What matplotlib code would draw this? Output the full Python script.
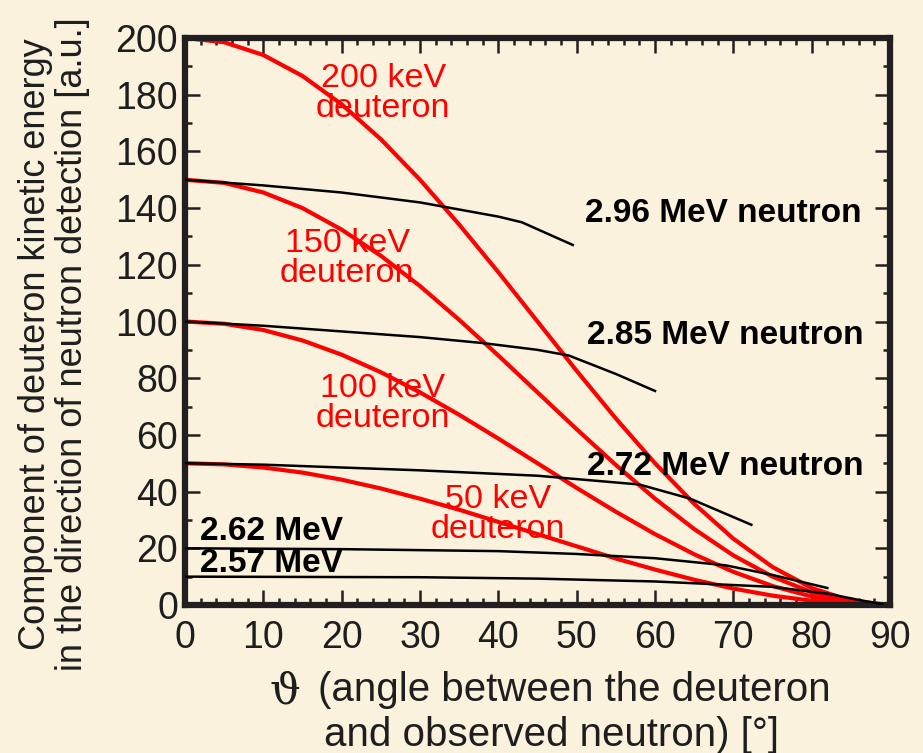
import numpy as np
import matplotlib
matplotlib.use("Agg")
import matplotlib.pyplot as plt
from matplotlib.ticker import MultipleLocator

# ---------------- data ----------------
theta = [0, 5, 10, 15, 20, 25, 30, 35, 40, 45, 50, 55, 60, 65, 70, 75, 80, 85, 90]
deut_200 = [200, 198.5, 194.0, 186.6, 176.6, 164.3, 150.0, 134.2, 117.4, 100.0,
            82.6, 65.8, 50.0, 35.7, 23.4, 13.4, 6.0, 1.5, 0]
deut_150 = [150, 148.9, 145.5, 140.0, 132.4, 123.2, 112.5, 100.6, 88.0, 75.0,
            62.0, 49.4, 37.5, 26.8, 17.5, 10.0, 4.5, 1.1, 0]
deut_100 = [100, 99.2, 97.0, 93.3, 88.3, 82.1, 75.0, 67.1, 58.7, 50.0,
            41.3, 32.9, 25.0, 17.9, 11.7, 6.7, 3.0, 0.8, 0]
deut_50 = [50, 49.6, 48.5, 46.7, 44.2, 41.1, 37.5, 33.6, 29.3, 25.0,
           20.7, 16.4, 12.5, 8.9, 5.8, 3.3, 1.5, 0.4, 0]

n296_x = [0, 10, 20, 30, 40, 43, 49.5]
n296_y = [150, 148, 145.5, 142, 137, 135, 127]
n285_x = [0, 10, 20, 30, 38, 45, 49, 55, 60]
n285_y = [100, 98.5, 96.5, 94.5, 92.4, 90, 88, 81.5, 75.5]
n272_x = [0, 10, 20, 30, 45, 58, 64.5, 72.3]
n272_y = [50, 49.5, 48.5, 47.5, 45.6, 42.5, 37.5, 28.3]
n262_x = [0, 20, 40, 50, 60, 69, 75, 82]
n262_y = [20, 19.7, 19, 18, 16.5, 14, 10.6, 6]
n257_x = [0, 30, 45, 60, 75, 82, 86, 89]
n257_y = [10, 9.8, 9.3, 8.3, 6.4, 4, 1.8, 0.3]

red_labels = ["200 keV\ndeuteron", "150 keV\ndeuteron", "100 keV\ndeuteron", "50 keV\ndeuteron"]
red_pos = [(25.3, 180.4), (20.7, 122.1), (25.2, 71.2), (40.0, 31.9)]
black_labels = ["2.96 MeV neutron", "2.85 MeV neutron", "2.72 MeV neutron", "2.62 MeV", "2.57 MeV"]
black_pos = [(51.1, 138), (51.3, 94.9), (51.3, 48.8), (1.9, 25.8), (1.9, 14.5)]

# ---------------- style ----------------
bg = "#FBF2DD"
frame = "#231F20"
red = "#FF0000"
txt = "#1E1E1E"
plt.rcParams["font.family"] = ["Liberation Sans", "DejaVu Sans"]

fig = plt.figure(figsize=(9.23, 7.53), dpi=100, facecolor=bg)
ax = fig.add_axes([185 / 923, 1 - 605 / 753, (890 - 185) / 923, (605 - 38) / 753])
ax.set_facecolor(bg)

for y in [deut_200, deut_150, deut_100, deut_50]:
    ax.plot(theta, y, color=red, lw=3.0, solid_capstyle="butt", zorder=2)

for xs, ys in [(n296_x, n296_y), (n285_x, n285_y), (n272_x, n272_y),
               (n262_x, n262_y), (n257_x, n257_y)]:
    ax.plot(xs, ys, color="black", lw=1.8, zorder=3)

for s, (x, y) in zip(red_labels, red_pos):
    ax.text(x, y, s, color=red, fontsize=24.5, ha="center", va="center",
            linespacing=0.95, zorder=4)
for s, (x, y) in zip(black_labels, black_pos):
    ax.text(x, y, s, color="black", fontsize=24, fontweight="bold",
            ha="left", va="center", zorder=4)

ax.set_xlim(0, 90)
ax.set_ylim(0, 200)
ax.xaxis.set_major_locator(MultipleLocator(10))
ax.xaxis.set_minor_locator(MultipleLocator(2))
ax.yaxis.set_major_locator(MultipleLocator(20))
ax.yaxis.set_minor_locator(MultipleLocator(10))
ax.tick_params(which="both", direction="in", top=True, right=True,
               color=frame, width=1.8, labelsize=27, labelcolor=txt)
ax.tick_params(which="major", length=11)
ax.tick_params(which="minor", length=5)
ax.tick_params(axis="x", pad=11)
ax.tick_params(axis="y", pad=5)
for sp in ax.spines.values():
    sp.set_linewidth(4.5)
    sp.set_color(frame)

# axis titles
fig.text(54 / 923, 1 - 344 / 753,
         "Component of deuteron kinetic energy\nin the direction of neutron detection [a.u.]",
         fontsize=26, color=txt, rotation=90, ha="center", va="center",
         linespacing=1.05)
fig.text(285 / 923, 1 - 692 / 753, "ϑ", fontsize=31, color=txt,
         family=["DejaVu Serif"], ha="center", va="center")
fig.text(318 / 923, 1 - 690 / 753, "(angle between the deuteron",
         fontsize=29, color=txt, ha="left", va="center")
fig.text(551 / 923, 1 - 735 / 753, "and observed neutron) [°]",
         fontsize=29, color=txt, ha="center", va="center")

fig.savefig("out.png", dpi=100, facecolor=bg)
